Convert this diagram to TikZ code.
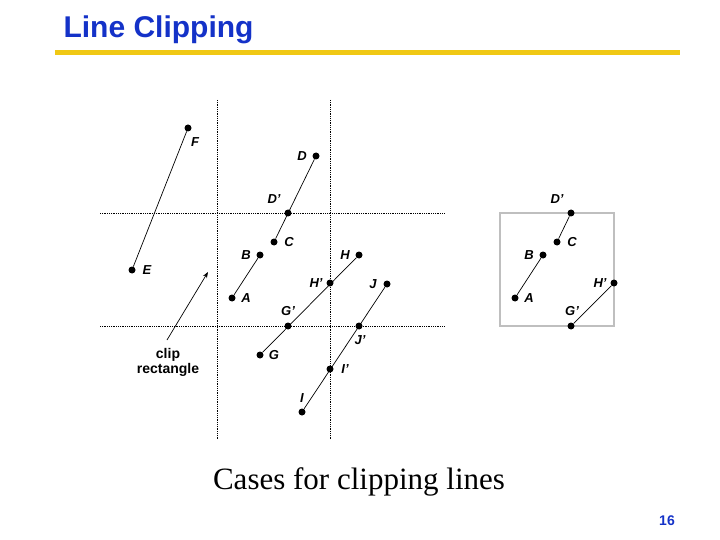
\documentclass[tikz,border=0pt]{standalone}
\usepackage{fontspec}
\setmainfont{Liberation Sans}
\newfontfamily\seriff{Liberation Serif}
\usetikzlibrary{arrows.meta}
\definecolor{ttl}{RGB}{20,50,200}
\definecolor{ylw}{RGB}{240,200,20}
\begin{document}
\begin{tikzpicture}[x=1pt,y=-1pt,
  pt/.style={circle,fill=black,inner sep=0pt,minimum size=7pt},
  lb/.style={font=\bfseries\itshape\fontsize{13}{14}\selectfont},
  grid/.style={densely dotted,line width=0.8pt},
  seg/.style={line width=0.7pt}]
\useasboundingbox (0,0) rectangle (720,540);
\node[anchor=west,text=ttl,font=\bfseries\fontsize{30}{32}\selectfont] (title) at (60,30) {Line Clipping};
\draw[ylw,line width=5pt] (55,53) -- (680,53);
\draw[grid] (100,213) -- (445,213);
\draw[grid] (100,326) -- (445,326);
\draw[grid] (217,100) -- (217,440);
\draw[grid] (330,100) -- (330,440);
% left points
\foreach \n/\x/\y in {F/188/128,E/132/270,D/316/156,Dp/288/213,C/274/242,B/260/255,A/232/298,H/359/255,Hp/330/283,Gp/288/326,G/260/355,J/387/284,Jp/359/326,Ip/330/369,I/302/412}
  \node[pt] (\n) at (\x,\y) {};
\draw[seg] (E)--(F); \draw[seg] (C)--(D); \draw[seg] (A)--(B);
\draw[seg] (G)--(H); \draw[seg] (I)--(J);
\node[lb] at (195,142) {F};
\node[lb] at (147,270) {E};
\node[lb] at (302,156) {D};
\node[lb] at (274,199) {D'};
\node[lb] at (289,242) {C};
\node[lb] at (246,255) {B};
\node[lb] at (246,298) {A};
\node[lb] at (345,255) {H};
\node[lb] at (316,283) {H'};
\node[lb] at (373,284) {J};
\node[lb] at (288,311) {G'};
\node[lb] at (360,340) {J'};
\node[lb] at (274,355) {G};
\node[lb] at (345,369) {I'};
\node[lb] at (302,398) {I};
\node[font=\bfseries\fontsize{14}{15}\selectfont,align=center] (clip) at (168,362) {clip\\rectangle};
\coordinate (ah) at (208,272);
\draw[-{Stealth[length=6pt,width=4.5pt]},line width=0.7pt] (167,340) -- (ah);
% right
\draw[gray!50,line width=1.2pt] (500,213) rectangle (614,326);
\foreach \n/\x/\y in {rDp/571/213,rC/557/242,rB/543/255,rA/515/298,rHp/614/283,rGp/571/326}
  \node[pt] (\n) at (\x,\y) {};
\draw[seg] (rC)--(rDp); \draw[seg] (rA)--(rB); \draw[seg] (rGp)--(rHp);
\node[lb] at (557,199) {D'};
\node[lb] at (572,242) {C};
\node[lb] at (529,255) {B};
\node[lb] at (529,298) {A};
\node[lb] at (600,283) {H'};
\node[lb] at (572,311) {G'};
\node[font=\seriff\fontsize{31}{33}\selectfont] (cap) at (359,482) {Cases for clipping lines};
\node[text=ttl,font=\bfseries\fontsize{14}{16}\selectfont] (num) at (667,521) {16};
\end{tikzpicture}
\end{document}
